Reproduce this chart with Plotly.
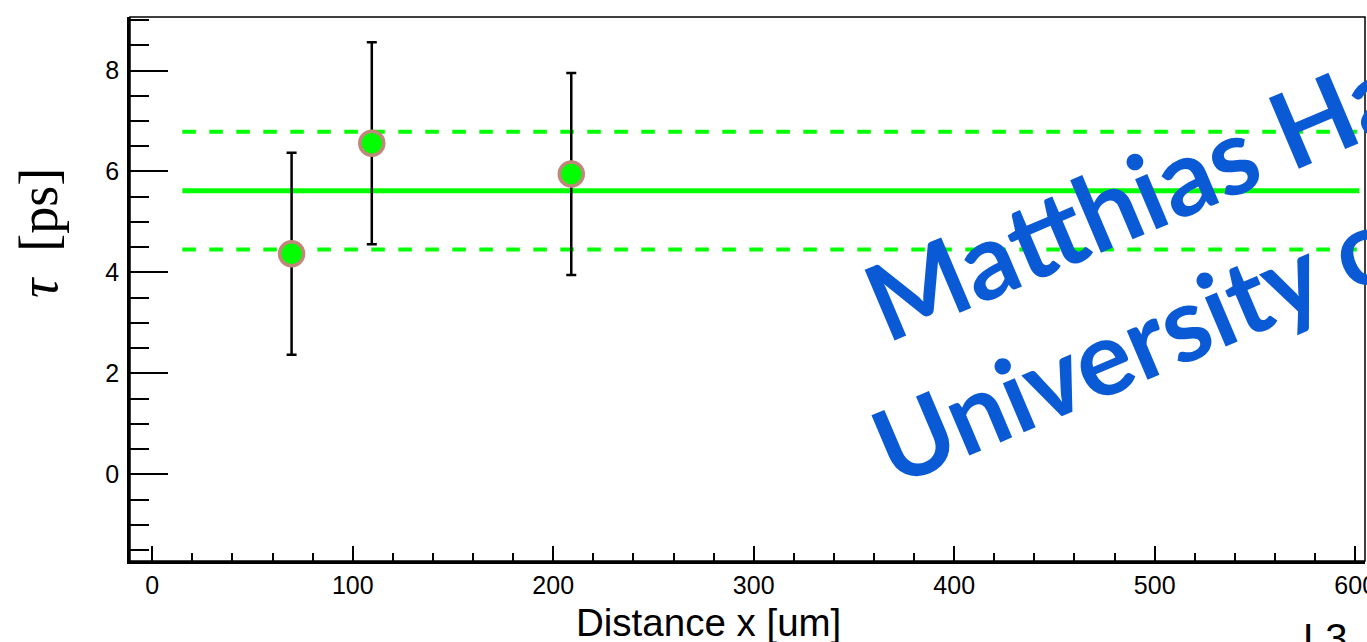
import math
import plotly.graph_objects as go

# Measured lifetimes vs. distance
distance_um = [69.5, 109.5, 209.0]
tau_ps = [4.37, 6.56, 5.95]
tau_err_ps = [2.0, 2.0, 2.0]

# Constant fit: mean and +/- 1 sigma band
fit_x_range = [15, 602]
fit_mean = 5.62
fit_sigma = 1.165

x_range = [-11.1, 604.9]
y_range = [-1.715, 9.06]

W, H = 1367, 642
PL, PR, PT, PB = 130, 1365, 17, 561


def fx(p):
    return (p - PL) / (PR - PL)


def fy(p):
    return (PB - p) / (PB - PT)


green = "#00ff00"

fig = go.Figure()

fig.add_trace(go.Scatter(
    x=fit_x_range, y=[fit_mean] * 2, mode="lines",
    line=dict(color=green, width=5), showlegend=False, hoverinfo="skip"))
for s in (+1, -1):
    fig.add_trace(go.Scatter(
        x=fit_x_range, y=[fit_mean + s * fit_sigma] * 2, mode="lines",
        line=dict(color=green, width=4, dash="13.5px,13.5px"),
        showlegend=False, hoverinfo="skip"))

fig.add_trace(go.Scatter(
    x=distance_um, y=tau_ps, mode="markers",
    marker=dict(size=24, color=green, line=dict(color="#bf887a", width=3.5)),
    error_y=dict(type="data", array=tau_err_ps, color="black",
                 thickness=2.5, width=5),
    showlegend=False))

tick_font = dict(family="Liberation Sans, Arial, sans-serif", size=25, color="black")

fig.update_xaxes(
    range=x_range, showgrid=False, zeroline=False, automargin=False,
    showline=True, linecolor="black", linewidth=3,
    ticks="inside", ticklen=15, tickwidth=2, tickcolor="black",
    tick0=0, dtick=100, tickfont=tick_font, ticklabeloverflow="allow",
    minor=dict(ticks="inside", dtick=20, ticklen=8, tickwidth=2,
               tickcolor="black", showgrid=False),
)
fig.update_yaxes(
    range=y_range, showgrid=False, zeroline=False, automargin=False,
    showline=True, linecolor="black", linewidth=2.5,
    ticks="inside", ticklen=38, tickwidth=2.3, tickcolor="black",
    tick0=0, dtick=2, tickfont=tick_font, ticklabelstandoff=3,
    minor=dict(ticks="inside", dtick=0.5, ticklen=19, tickwidth=2.3,
               tickcolor="black", showgrid=False),
)

# thin frame on the top and right
fig.add_shape(type="rect", xref="paper", yref="paper", x0=0, x1=1, y0=0, y1=1,
              line=dict(color="black", width=1.5), layer="above")

annotations = []

# axis titles
annotations.append(dict(
    text="Distance x [um]", xref="paper", yref="paper",
    x=fx(708.5), y=fy(599), xanchor="center", yanchor="top",
    showarrow=False,
    font=dict(family="Liberation Sans, Arial, sans-serif", size=38.5, color="black")))
annotations.append(dict(
    text="<i>τ</i>&nbsp;&nbsp;[ps]", xref="paper", yref="paper",
    x=fx(39), y=fy(233), xanchor="center", yanchor="middle", textangle=-90,
    showarrow=False,
    font=dict(family="Liberation Serif, Times New Roman, serif", size=54, color="black")))
annotations.append(dict(
    text="L3", xref="paper", yref="paper",
    x=fx(1301), y=fy(614), xanchor="left", yanchor="top",
    showarrow=False,
    font=dict(family="Liberation Sans, Arial, sans-serif", size=40, color="black")))

# rotated watermark, anchored at the lower-left corner of each text box
wm_angle = 23
wm_color = "#0a5ad6"
sa, ca = math.sin(math.radians(wm_angle)), math.cos(math.radians(wm_angle))
for txt, size, (bx, by) in (("Matthias Ha", 106, (834, 346)),
                            ("University o", 104, (842, 489))):
    desc = 0.213 * size + 1
    cx, cy = bx + sa * desc, by + ca * desc
    annotations.append(dict(
        text=txt, xref="paper", yref="paper",
        x=fx(cx), y=fy(cy), xanchor="left", yanchor="bottom",
        textangle=-wm_angle, showarrow=False,
        font=dict(family="Lato, sans-serif", size=size, color=wm_color,
                  weight="bold")))

fig.update_layout(
    width=W, height=H,
    margin=dict(l=PL, r=W - PR, t=PT, b=H - PB, pad=0, autoexpand=False),
    plot_bgcolor="white", paper_bgcolor="white",
    annotations=annotations, showlegend=False,
)

fig.write_html("out.html", config=dict(displayModeBar=False))
